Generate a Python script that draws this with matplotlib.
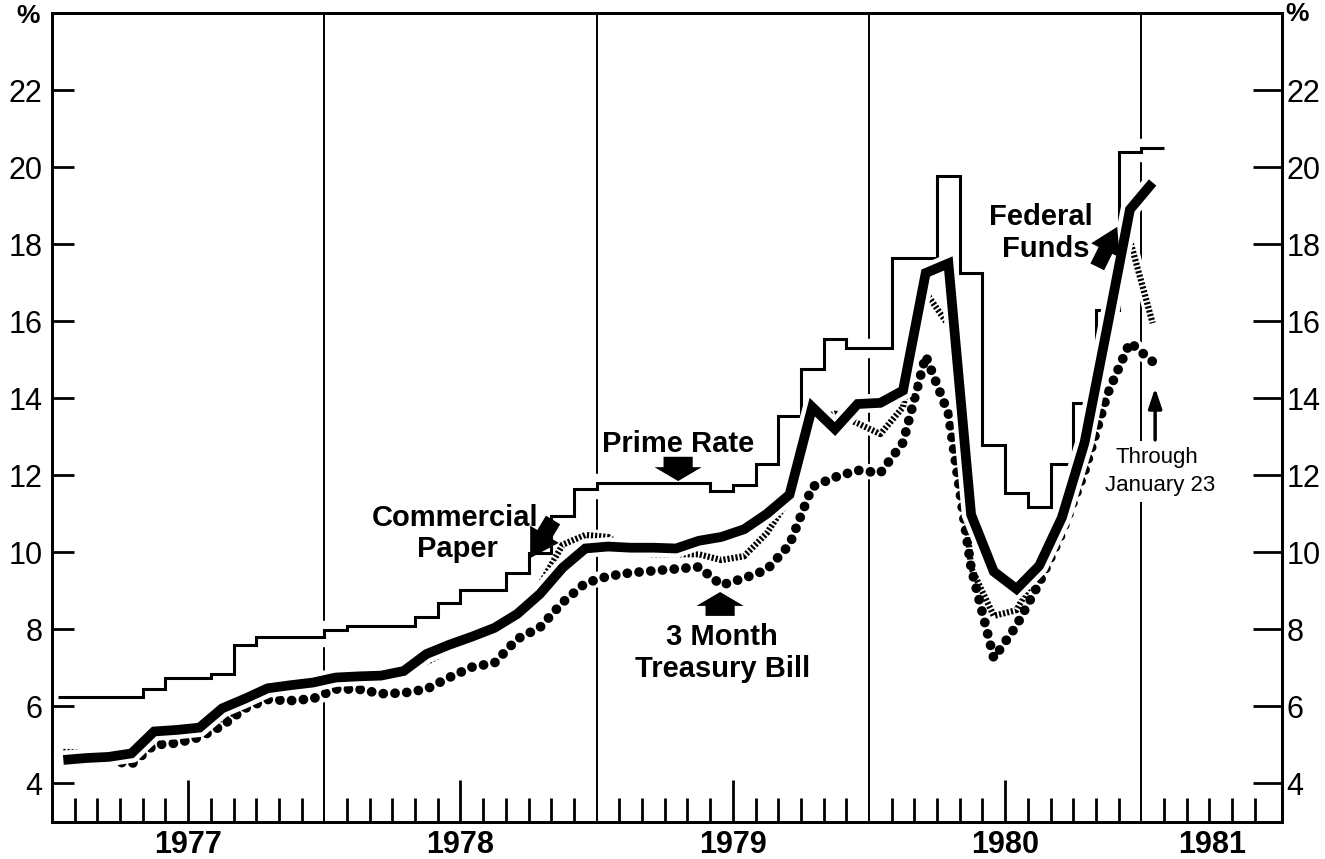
import numpy as np
import matplotlib.pyplot as plt

plt.rcParams['font.family'] = ['Liberation Sans', 'DejaVu Sans']

# monthly data, Jan 1977 .. Jan 1981 (Jan 1981 through January 23)
months = np.arange(49) + 0.5          # plotted at mid-month, 0 = start of 1977
year_labels = ['1977', '1978', '1979', '1980', '1981']

fed_funds = [4.61, 4.66, 4.69, 4.78, 5.35, 5.39, 5.45, 5.95, 6.20, 6.47, 6.55, 6.62,
             6.75, 6.78, 6.80, 6.92, 7.36, 7.60, 7.81, 8.04, 8.40, 8.92, 9.60, 10.10,
             10.15, 10.12, 10.12, 10.10, 10.30, 10.40, 10.60, 11.00, 11.50, 13.77, 13.20, 13.85,
             13.88, 14.20, 17.25, 17.50, 10.98, 9.50, 9.05, 9.65, 10.90, 12.85, 15.85, 18.90,
             19.60]

prime = [6.25, 6.25, 6.25, 6.25, 6.45, 6.75, 6.75, 6.83, 7.60, 7.80, 7.80, 7.80,
         7.98, 8.08, 8.08, 8.08, 8.33, 8.69, 9.03, 9.03, 9.47, 9.98, 10.95, 11.65,
         11.80, 11.80, 11.80, 11.80, 11.80, 11.60, 11.75, 12.30, 13.55, 14.75, 15.55, 15.30,
         15.30, 17.65, 17.65, 19.77, 17.25, 12.78, 11.55, 11.18, 12.30, 13.87, 16.28, 20.40,
         20.50]

tbill = [4.62, 4.67, 4.60, 4.50, 5.00, 5.05, 5.20, 5.50, 5.95, 6.18, 6.15, 6.20,
         6.45, 6.45, 6.33, 6.35, 6.45, 6.75, 7.02, 7.13, 7.75, 8.05, 8.70, 9.20,
         9.38, 9.47, 9.52, 9.57, 9.62, 9.15, 9.33, 9.55, 10.20, 11.70, 11.95, 12.13,
         12.06, 12.85, 15.10, 13.60, 9.60, 7.25, 8.10, 9.20, 10.50, 12.10, 14.10, 15.45,
         14.95]

comm_paper = [4.82, 4.80, 4.75, 4.72, 5.20, 5.25, 5.30, 5.70, 6.00, 6.45, 6.48, 6.55,
              6.70, 6.75, 6.75, 6.85, 7.15, 7.45, 7.80, 7.90, 8.45, 9.15, 10.20, 10.45,
              10.40, 10.00, 9.95, 9.95, 9.95, 9.80, 9.90, 10.50, 11.40, 13.40, 13.60, 13.35,
              13.07, 13.77, 16.75, 15.90, 9.60, 8.35, 8.50, 9.60, 11.00, 12.60, 15.30, 18.10,
              15.95]

XMAX = 54.2
prime_edges = np.arange(len(prime) + 1, dtype=float)
prime_edges[0] = 0.25

fig = plt.figure(figsize=(13.25, 8.59), dpi=100)
ax = fig.add_axes([52 / 1325, 37 / 859, 1230 / 1325, 809 / 859])
ax.set_xlim(0, XMAX)
ax.set_ylim(3, 24)
ax.set_axisbelow(False)

# year boundaries
for b in (12, 24, 36, 48):
    ax.axvline(b, color='black', lw=1.4, zorder=1)

# white halos break the year lines where the series cross them
ax.stairs(prime, prime_edges, baseline=None, color='white', lw=14, zorder=2)
ax.plot(months, tbill, color='white', lw=11, zorder=2)
ax.plot(months, comm_paper, color='white', lw=9, zorder=2)

ax.stairs(prime, prime_edges, baseline=None, color='black', lw=2.2, zorder=3)
ax.plot(months, tbill, color='black', lw=7, linestyle=(0, (0.01, 1.2)),
        dash_capstyle='round', zorder=4)
ax.plot(months, comm_paper, color='black', lw=4.5, linestyle=(0, (0.35, 0.3)),
        dash_capstyle='butt', zorder=5)
ax.plot(months, fed_funds, color='white', lw=13.5, solid_joinstyle='miter', zorder=6)
ax.plot(months, fed_funds, color='black', lw=7, solid_joinstyle='miter',
        solid_capstyle='butt', zorder=7)

# axes styling
for s in ax.spines.values():
    s.set_linewidth(2)

ax.set_xticks([6, 18, 30, 42, (48 + XMAX) / 2])
ax.set_xticklabels(year_labels, fontsize=22, fontweight='bold')
ax.set_xticks([m for m in range(1, 54) if m % 6 != 0], minor=True)
ax.tick_params(axis='x', which='major', direction='in', length=30, width=2, pad=6)
ax.tick_params(axis='x', which='minor', direction='in', length=17, width=2)
ax.xaxis.get_major_ticks()[4].tick1line.set_visible(False)

yt = list(range(4, 23, 2))
ax.set_yticks(yt)
ax.tick_params(axis='y', direction='in', length=16, width=2, pad=7, labelsize=22)

ax2 = ax.twinx()
ax2.set_ylim(3, 24)
ax2.set_yticks(yt)
ax2.tick_params(axis='y', direction='in', length=21, width=2, pad=3, labelsize=22)
for s in ax2.spines.values():
    s.set_linewidth(2)

fig.text(28 / 1325, 1 - 16 / 859, '%', ha='center', va='center', fontsize=19, fontweight='bold')
fig.text(1297 / 1325, 1 - 14 / 859, '%', ha='center', va='center', fontsize=19, fontweight='bold')

# labels
bold = dict(ha='center', va='baseline', fontsize=21, fontweight='bold', zorder=8)
ax.text(27.59, 12.61, 'Prime Rate', **bold)
ax.text(17.76, 10.68, 'Commercial', **bold)
ax.text(17.85, 9.88, 'Paper', **bold)
ax.text(29.53, 7.60, '3 Month', **bold)
ax.text(29.57, 6.76, 'Treasury Bill', **bold)
ax.text(43.59, 18.50, 'Federal', **bold)
ax.text(43.81, 17.67, 'Funds', **bold)

box = dict(facecolor='white', edgecolor='none', pad=4)
ax.text(48.70, 12.32, 'Through', ha='center', va='baseline', fontsize=16, bbox=box, zorder=2)
ax.text(48.83, 11.59, 'January 23', ha='center', va='baseline', fontsize=16, bbox=box, zorder=2)

def fat_arrow(tail, tip, hl, hw, tw):
    ax.annotate('', xy=tip, xytext=tail, zorder=9,
                arrowprops=dict(arrowstyle=f'simple,head_length={hl},head_width={hw},tail_width={tw}',
                                mutation_scale=10, fc='black', ec='black', lw=0,
                                shrinkA=0, shrinkB=0))

fat_arrow((27.59, 12.48), (27.59, 11.85), 1.0, 3.4, 2.1)
fat_arrow((29.44, 8.35), (29.44, 8.97), 1.0, 3.4, 2.1)
fat_arrow((22.08, 10.84), (21.07, 9.85), 2.0, 2.4, 1.2)
fat_arrow((46.06, 17.41), (46.94, 18.45), 1.9, 2.3, 1.1)

ax.annotate('', xy=(48.61, 14.27), xytext=(48.61, 12.92), zorder=9,
            arrowprops=dict(arrowstyle='-|>,head_length=0.6,head_width=0.2',
                            mutation_scale=20, color='black', lw=2.5,
                            shrinkA=0, shrinkB=0))

fig.savefig('out.png', dpi=100)
